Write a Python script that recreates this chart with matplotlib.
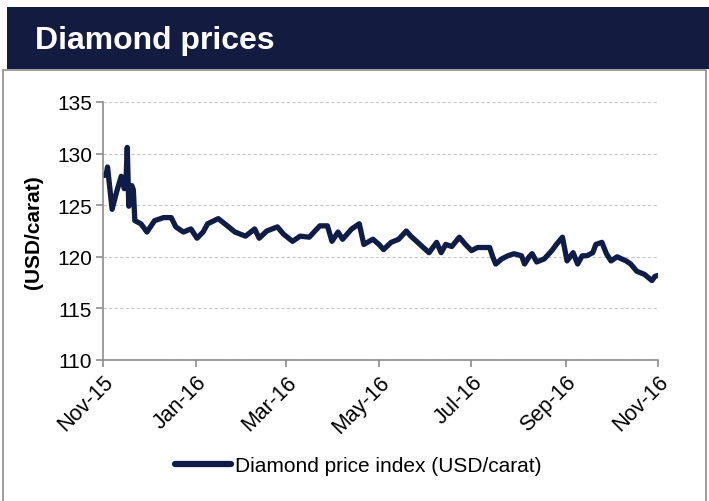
import matplotlib
matplotlib.use("Agg")
import matplotlib.pyplot as plt
from matplotlib.patches import Rectangle
from matplotlib.lines import Line2D
import numpy as np

plt.rcParams['font.family'] = ['Liberation Sans', 'DejaVu Sans']

dates = ["2015-11-01","2015-11-03","2015-11-04","2015-11-07","2015-11-10","2015-11-13","2015-11-15",
         "2015-11-16","2015-11-17","2015-11-18","2015-11-20","2015-11-21","2015-11-22","2015-11-26",
         "2015-11-30","2015-12-05","2015-12-11","2015-12-16","2015-12-19","2015-12-24","2015-12-29",
         "2016-01-02","2016-01-06","2016-01-09","2016-01-16","2016-01-22","2016-01-27","2016-02-03",
         "2016-02-09","2016-02-12","2016-02-17","2016-02-24","2016-02-28","2016-03-05","2016-03-10",
         "2016-03-16","2016-03-23","2016-03-28","2016-03-31","2016-04-04","2016-04-07","2016-04-13",
         "2016-04-18","2016-04-21","2016-04-27","2016-05-01","2016-05-04","2016-05-09","2016-05-14",
         "2016-05-19","2016-05-22","2016-05-28","2016-06-03","2016-06-08","2016-06-11","2016-06-14",
         "2016-06-18","2016-06-23","2016-06-27","2016-07-01","2016-07-05","2016-07-13","2016-07-15",
         "2016-07-17","2016-07-21","2016-07-25","2016-07-29","2016-08-03","2016-08-05","2016-08-08",
         "2016-08-10","2016-08-13","2016-08-18","2016-08-23","2016-08-26","2016-08-30","2016-09-02",
         "2016-09-06","2016-09-09","2016-09-12","2016-09-15","2016-09-19","2016-09-21","2016-09-25",
         "2016-09-28","2016-10-01","2016-10-05","2016-10-11","2016-10-14","2016-10-18","2016-10-23",
         "2016-10-28","2016-10-30","2016-11-01"]
prices = [127.9,127.9,128.7,124.6,126.3,127.8,126.6,
          126.8,130.6,124.9,126.9,126.5,123.5,123.2,
          122.4,123.5,123.8,123.8,122.9,122.4,122.7,
          121.8,122.4,123.2,123.7,123.0,122.4,122.0,
          122.7,121.8,122.5,122.9,122.2,121.5,122.0,
          121.9,123.0,123.0,121.5,122.4,121.7,122.7,
          123.2,121.2,121.7,121.2,120.7,121.4,121.7,
          122.5,122.0,121.2,120.4,121.4,120.4,121.2,
          121.0,121.9,121.2,120.6,120.9,120.9,120.0,
          119.3,119.8,120.1,120.3,120.1,119.3,120.0,
          120.3,119.5,119.8,120.6,121.2,121.9,119.6,
          120.4,119.3,120.1,120.1,120.4,121.2,121.4,
          120.3,119.6,120.0,119.6,119.3,118.6,118.3,
          117.7,118.1,118.2]
tick_labels = ["Nov-15","Jan-16","Mar-16","May-16","Jul-16","Sep-16","Nov-16"]
tick_dates = ["2015-11-01","2016-01-01","2016-03-01","2016-05-01","2016-07-01","2016-09-01","2016-11-01"]
y_ticks = [110, 115, 120, 125, 130, 135]
series_name = "Diamond price index (USD/carat)"

W, H = 709, 502
fig = plt.figure(figsize=(W/100, H/100), dpi=100)
navy = "#131c40"
line_col = "#0e1c47"

# header band
fig.patches.append(Rectangle((7/W, 1-70/H), 1-7/W, 62/H, transform=fig.transFigure,
                             facecolor=navy, edgecolor='none', zorder=0))
fig.text(35/W, 1-41/H, "Diamond prices", color="white", fontsize=23, fontweight='bold',
         va='center', ha='left')
# box border
fig.patches.append(Rectangle((3/W, -0.01), 703/W, (H-71)/H + 0.01, transform=fig.transFigure,
                             facecolor='none', edgecolor='#8c8c8c', linewidth=1.2, zorder=0))

ax = fig.add_axes([103/W, 1-361/H, (658-103)/W, (361-103)/H])
x = np.array(dates, dtype='datetime64[D]')
ax.plot(x, prices, color=line_col, linewidth=3.8, solid_joinstyle='round', solid_capstyle='round')
ax.set_xlim(np.datetime64("2015-11-01"), np.datetime64("2016-11-01"))
ax.set_ylim(110, 135)
ax.set_yticks(y_ticks)
ax.set_yticklabels([str(v) for v in y_ticks], fontsize=15)
ax.set_xticks(np.array(tick_dates, dtype='datetime64[D]'))
ax.set_xticklabels(tick_labels, fontsize=15.5, rotation=45, ha='right', rotation_mode='anchor')
ax.grid(axis='y', color='#c8c8c8', linestyle=(0, (3, 2)), linewidth=0.8)
ax.set_axisbelow(True)
for s in ['top', 'right']:
    ax.spines[s].set_visible(False)
for s in ['left', 'bottom']:
    ax.spines[s].set_color('#8c8c8c')
    ax.spines[s].set_linewidth(1.2)
ax.tick_params(axis='both', colors='#8c8c8c', labelcolor='black', length=5, width=1.2)
ax.tick_params(axis='x', pad=3)
ax.tick_params(axis='y', pad=3)
ax.set_ylabel("(USD/carat)", fontsize=15, fontweight='bold')
ax.yaxis.set_label_coords((33-103)/555, 0.5)
ax.yaxis.label.set_va('center')

# legend
fig.legend([Line2D([0], [0], color=line_col, linewidth=4.5, solid_capstyle='round')], [series_name],
           loc='center', bbox_to_anchor=(358/W, 1-467/H), frameon=False, fontsize=15,
           handlelength=2.7, handletextpad=0.2)

fig.savefig("out.png", dpi=100)
